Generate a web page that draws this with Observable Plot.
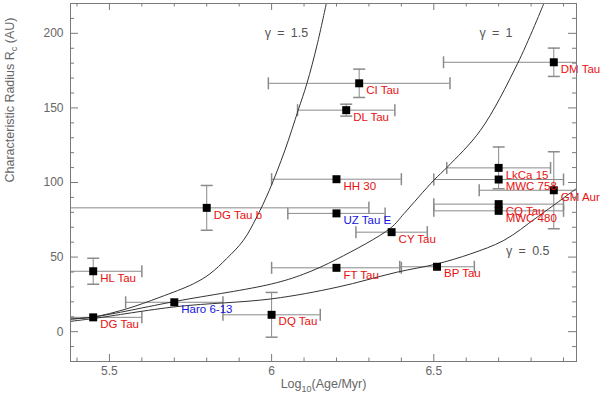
<!DOCTYPE html>
<html><head><meta charset="utf-8">
<script src="https://cdn.jsdelivr.net/npm/d3@7"></script>
<script src="https://cdn.jsdelivr.net/npm/@observablehq/plot@0.6"></script>
<style>
html,body{margin:0;padding:0;background:#fff;}
#chart svg{display:block;}
</style>
</head><body><div id="chart"></div>
<script>
// ---- data ----
const names   = ["HL Tau","DG Tau","Haro 6-13","DG Tau b","DQ Tau","FT Tau","UZ Tau E","HH 30","DL Tau","CI Tau","CY Tau","BP Tau","LkCa 15","MWC 758","CQ Tau","MWC 480","GM Aur","DM Tau"];
const logAge  = [5.45, 5.45, 5.70, 5.80, 6.00, 6.20, 6.20, 6.20, 6.23, 6.27, 6.37, 6.51, 6.70, 6.70, 6.70, 6.70, 6.87, 6.87];
const radius  = [40.5, 9.6, 19.7, 83.0, 11.3, 42.8, 79.3, 102.2, 148.5, 166.5, 66.7, 43.5, 109.8, 102.0, 85.5, 81.0, 94.8, 180.6];
const ageErr  = [0.15, 0.15, 0.15, 0.50, 0.15, 0.20, 0.15, 0.20, 0.15, 0.28, 0.11, 0.115, 0.16, 0.20, 0.20, 0.20, 0.23, 0.34];
const radErr  = [8.7, 0, 0, 15, 15, 0, 0, 0, 4, 9.5, 0, 0, 14, 0, 0, 0, 25.8, 9.5];
const blueGroup = ["Haro 6-13", "UZ Tau E"];

// model curves
const g15Age = [5.379, 5.45, 5.553, 5.656, 5.759, 5.81, 5.861, 5.913, 5.954, 5.993, 6.041, 6.082, 6.109, 6.140, 6.169];
const g15R   = [8.5, 9.8, 15.3, 23.1, 32.1, 38.8, 48.9, 61.2, 76.8, 94.8, 121.6, 148.5, 166.5, 192, 220.4];
const g10Age = [5.379, 5.45, 5.708, 6.0, 6.099, 6.202, 6.367, 6.408, 6.5, 6.542, 6.644, 6.758, 6.840];
const g10R   = [8.4, 9.8, 20.5, 32, 38.6, 48.7, 69.5, 79.1, 101.5, 110.4, 135, 179.6, 220.4];
const g05Age = [5.379, 5.45, 5.708, 6.0, 6.202, 6.387, 6.511, 6.614, 6.716, 6.819, 6.94];
const g05R   = [6.9, 8.8, 16.8, 22, 29.8, 39.9, 45.5, 52.2, 61.2, 76.8, 96];
const gammaLabels = ["γ\u2002=\u20021.5", "γ\u2002=\u20021", "γ\u2002=\u20020.5"];
const gammaLabelAge = [5.979, 6.641, 6.723];
const gammaLabelR   = [200, 200, 54.4];

// ticks
const xMajor = [5.5, 6, 6.5];
const xMinor = [5.4, 5.6, 5.7, 5.8, 5.9, 6.1, 6.2, 6.3, 6.4, 6.6, 6.7, 6.8, 6.9];
const yMajor = [0, 50, 100, 150, 200];
const yMinor = [-10, 10, 20, 30, 40, 60, 70, 80, 90, 110, 120, 130, 140, 160, 170, 180, 190, 210];
const xTitle = "Log10(Age/Myr)";
const yTitle = "Characteristic Radius Rc (AU)";

// ---- build ----
const W = 600, H = 395, mL = 70, mR = 24, mT = 3, mB = 34;
const iW = W - mL - mR, iH = H - mT - mB;
const stars = names.map((n, i) => ({name: n, age: logAge[i], r: radius[i], ae: ageErr[i], re: radErr[i]}));
const starsV = stars.filter(d => d.re > 0);
const curves = [
  ...g15Age.map((a, i) => ({g: "1.5", a, r: g15R[i]})),
  ...g10Age.map((a, i) => ({g: "1", a, r: g10R[i]})),
  ...g05Age.map((a, i) => ({g: "0.5", a, r: g05R[i]}))
];
const gl = gammaLabels.map((t, i) => ({t, a: gammaLabelAge[i], r: gammaLabelR[i]}));

const vcap = {draw(ctx, size) { const h = Math.sqrt(size / Math.PI); ctx.moveTo(0, -h); ctx.lineTo(0, h); }};
const hcap = {draw(ctx, size) { const h = Math.sqrt(size / Math.PI); ctx.moveTo(-h, 0); ctx.lineTo(h, 0); }};

const axisCol = "#7a7a7a", labCol = "#666", errCol = "#8a8a8a";
const font = "Liberation Sans, Arial, Helvetica, sans-serif";

const chart = Plot.plot({
  width: W, height: H,
  marginLeft: mL, marginRight: mR, marginTop: mT, marginBottom: mB,
  style: {fontFamily: font, background: "#fff"},
  x: {domain: [5.38, 6.94], axis: null},
  y: {domain: [-20, 220], axis: null},
  marks: [
    // error bars
    Plot.ruleY(stars, {y: "r", x1: d => d.age - d.ae, x2: d => d.age + d.ae, stroke: errCol, strokeWidth: 1, clip: true}),
    Plot.dot(stars, {x: d => d.age - d.ae, y: "r", symbol: vcap, r: 6, fill: "none", stroke: errCol, clip: true}),
    Plot.dot(stars, {x: d => d.age + d.ae, y: "r", symbol: vcap, r: 6, fill: "none", stroke: errCol, clip: true}),
    Plot.ruleX(starsV, {x: "age", y1: d => d.r - d.re, y2: d => d.r + d.re, stroke: errCol, clip: true}),
    Plot.dot(starsV, {x: "age", y: d => d.r - d.re, symbol: hcap, r: 6, fill: "none", stroke: errCol, clip: true}),
    Plot.dot(starsV, {x: "age", y: d => d.r + d.re, symbol: hcap, r: 6, fill: "none", stroke: errCol, clip: true}),
    // model curves
    Plot.line(curves, {x: "a", y: "r", z: "g", stroke: "#333", strokeWidth: 1, curve: "catmull-rom", clip: true}),
    // squares
    Plot.dot(stars, {x: "age", y: "r", symbol: "square", r: 4.5, fill: "#000", stroke: "none"}),
    // labels
    Plot.text(stars, {x: "age", y: "r", text: "name", textAnchor: "start", dx: 7, dy: 7,
      fill: d => blueGroup.includes(d.name) ? "#1414e0" : "#e81010", fontSize: 11.5}),
    Plot.text(gl, {x: "a", y: "r", text: "t", textAnchor: "start", fill: "#555", fontSize: 12.5}),
    // frame and ticks (inward, all four sides)
    Plot.frame({stroke: axisCol}),
    Plot.ruleX(xMajor, {x: d => d, insetTop: iH - 7, stroke: axisCol}),
    Plot.ruleX(xMinor, {x: d => d, insetTop: iH - 3.5, stroke: axisCol}),
    Plot.ruleX(xMajor, {x: d => d, insetBottom: iH - 7, stroke: axisCol}),
    Plot.ruleX(xMinor, {x: d => d, insetBottom: iH - 3.5, stroke: axisCol}),
    Plot.ruleY(yMajor, {y: d => d, insetRight: iW - 8, stroke: axisCol}),
    Plot.ruleY(yMinor, {y: d => d, insetRight: iW - 4, stroke: axisCol}),
    Plot.ruleY(yMajor, {y: d => d, insetLeft: iW - 8, stroke: axisCol}),
    Plot.ruleY(yMinor, {y: d => d, insetLeft: iW - 4, stroke: axisCol}),
    // tick labels
    Plot.text(xMajor, {x: d => d, frameAnchor: "bottom", dy: 13, text: d => String(d), fill: labCol, fontSize: 12}),
    Plot.text(yMajor, {y: d => d, frameAnchor: "left", dx: -7, textAnchor: "end", text: d => String(d), fill: labCol, fontSize: 12}),
    // axis titles
    Plot.text([xTitle], {frameAnchor: "bottom", dy: 26, text: d => d, fill: labCol, fontSize: 12.5}),
    Plot.text([yTitle], {frameAnchor: "left", dx: -61, rotate: -90, text: d => d, fill: labCol, fontSize: 12.5})
  ]
});
document.getElementById("chart").appendChild(chart);

// subscripts in axis titles
d3.select(chart).selectAll("text").each(function () {
  const t = d3.select(this);
  const s = this.textContent;
  if (s === xTitle) {
    t.text(null);
    t.append("tspan").text("Log");
    t.append("tspan").attr("dy", 4).attr("font-size", "9px").text("10");
    t.append("tspan").attr("dy", -4).text("(Age/Myr)");
  } else if (s === yTitle) {
    t.text(null);
    t.append("tspan").text("Characteristic Radius R");
    t.append("tspan").attr("dy", 3).attr("font-size", "9px").text("c");
    t.append("tspan").attr("dy", -3).text(" (AU)");
  }
});
</script>
</body></html>
